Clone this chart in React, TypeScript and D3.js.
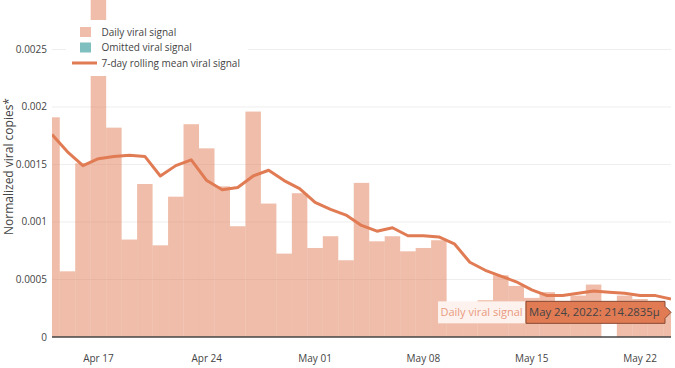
import React from "react";
import * as d3 from "d3";

const dates: string[] = [
  "2022-04-14","2022-04-15","2022-04-16","2022-04-17","2022-04-18","2022-04-19","2022-04-20",
  "2022-04-21","2022-04-22","2022-04-23","2022-04-24","2022-04-25","2022-04-26","2022-04-27",
  "2022-04-28","2022-04-29","2022-04-30","2022-05-01","2022-05-02","2022-05-03","2022-05-04",
  "2022-05-05","2022-05-06","2022-05-07","2022-05-08","2022-05-09","2022-05-10","2022-05-11",
  "2022-05-12","2022-05-13","2022-05-14","2022-05-15","2022-05-16","2022-05-17","2022-05-18",
  "2022-05-19","2022-05-20","2022-05-21","2022-05-22","2022-05-23","2022-05-24",
];

const dailySignal: (number | null)[] = [
  0.00191, 0.000571, 0.00151, 0.0030, 0.00182, 0.000847, 0.00133,
  0.000797, 0.00122, 0.00185, 0.00164, 0.00131, 0.000963, 0.00196,
  0.00116, 0.000725, 0.00125, 0.000774, 0.000876, 0.000667, 0.00134,
  0.000832, 0.000876, 0.000745, 0.000774, 0.000841, 0.00028, 0.00026,
  0.00032, 0.000537, 0.000444, 0.00034, 0.00039, 0.00031, 0.00036,
  0.000456, null, 0.00036, 0.00033, 0.00031, 0.0002142835,
];

const rollingMean: number[] = [
  0.00176, 0.00161, 0.00149, 0.00155, 0.00157, 0.00158, 0.00157,
  0.0014, 0.00149, 0.00154, 0.00136, 0.00128, 0.0013, 0.0014,
  0.00145, 0.00136, 0.00129, 0.00117, 0.00111, 0.00106, 0.00097,
  0.00092, 0.00095, 0.00088, 0.00088, 0.00087, 0.00081, 0.00065,
  0.00058, 0.00053, 0.00048, 0.00041, 0.00036, 0.00036, 0.00038,
  0.0004, 0.00039, 0.00038, 0.00036, 0.00036, 0.00033,
];

const yTicks: number[] = [0, 0.0005, 0.001, 0.0015, 0.002, 0.0025];
const yTickLabels: string[] = ["0", "0.0005", "0.001", "0.0015", "0.002", "0.0025"];
const xTicks: string[] = ["2022-04-17", "2022-04-24", "2022-05-01", "2022-05-08", "2022-05-15", "2022-05-22"];
const xTickLabels: string[] = ["Apr 17", "Apr 24", "May 01", "May 08", "May 15", "May 22"];
const legendLabels: string[] = ["Daily viral signal", "Omitted viral signal", "7-day rolling mean viral signal"];
const hoverName = "Daily viral signal";
const hoverText = "May 24, 2022: 214.2835μ";

const W = 675, H = 368;
const L = 52, R = 671, T = 0, B = 337;
const ORANGE = "#e07b54";
const TEAL = "#008080";
const FONT = "'Open Sans', sans-serif";

export default function App() {
  const parse = d3.utcParse("%Y-%m-%d");
  const dts = dates.map((d) => parse(d) as Date);
  const x = d3.scaleUtc().domain([dts[0], dts[dts.length - 1]]).range([L, R]);
  const y = d3.scaleLinear().domain([0, 0.00293]).range([B, T]);
  const dayW = x(dts[1]) - x(dts[0]);

  const line = d3
    .line<number>()
    .x((_, i) => x(dts[i]))
    .y((d) => y(d));

  const lastI = dts.length - 1;
  const tipX = x(dts[lastI]);
  const tipY = y(dailySignal[lastI] as number);
  const boxH = 22;
  const mainW = 139;
  const mainR = tipX - 6;
  const mainL = mainR - mainW;
  const nameW = 87;
  const nameL = mainL - nameW - 1;

  return (
    <svg width={W} height={H} style={{ position: "absolute", left: 0, top: 0, background: "#fff" }} fontFamily={FONT}>
      <defs>
        <clipPath id="plotclip">
          <rect x={L} y={T} width={R - L} height={B - T} />
        </clipPath>
      </defs>
      {/* grid */}
      {yTicks.slice(1).map((t) => (
        <line key={t} x1={L} x2={R} y1={y(t)} y2={y(t)} stroke="#eee" strokeWidth={1} />
      ))}
      {/* bars */}
      <g clipPath="url(#plotclip)">
        {dailySignal.map((v, i) =>
          v == null ? null : (
            <rect
              key={i}
              x={x(dts[i]) - dayW / 2}
              width={dayW}
              y={y(v)}
              height={B - y(v)}
              fill={ORANGE}
              fillOpacity={0.5}
            />
          )
        )}
        <path d={line(rollingMean) || ""} fill="none" stroke={ORANGE} strokeWidth={3} strokeLinejoin="round" />
      </g>
      {/* zero line */}
      <line x1={L} x2={R} y1={B} y2={B} stroke="#444" strokeWidth={1.5} />
      {/* y ticks */}
      {yTicks.map((t, i) => (
        <text key={t} x={L - 5} y={y(t)} dy="0.35em" textAnchor="end" fontSize={10} fill="#444">
          {yTickLabels[i]}
        </text>
      ))}
      {/* x ticks */}
      {xTicks.map((t, i) => (
        <text key={t} x={x(parse(t) as Date)} y={362} textAnchor="middle" fontSize={10} fill="#444">
          {xTickLabels[i]}
        </text>
      ))}
      {/* y title */}
      <text
        transform={`translate(13,${(T + B) / 2 - 2}) rotate(-90)`}
        textAnchor="middle"
        fontSize={12}
        fill="#444"
      >
        Normalized viral copies*
      </text>
      {/* legend */}
      <g>
        <rect x={66} y={20} width={182} height={56} fill="#fff" />
        <rect x={80} y={27} width={11} height={10} fill={ORANGE} fillOpacity={0.5} />
        <text x={101.5} y={32} dy="0.35em" fontSize={10} fill="#444">{legendLabels[0]}</text>
        <rect x={80} y={42.5} width={11} height={10} fill={TEAL} fillOpacity={0.5} />
        <text x={101.5} y={47.5} dy="0.35em" fontSize={10} fill="#444">{legendLabels[1]}</text>
        <line x1={72} x2={97} y1={63} y2={63} stroke={ORANGE} strokeWidth={3} />
        <text x={101.5} y={63} dy="0.35em" fontSize={10} fill="#444">{legendLabels[2]}</text>
      </g>
      {/* hover label */}
      <g>
        <rect x={nameL} y={tipY - boxH / 2} width={nameW} height={boxH} fill="#fdf2ee" />
        <text x={nameL + nameW / 2} y={tipY} dy="0.35em" textAnchor="middle" fontSize={11} fill="#ea9a7e">
          {hoverName}
        </text>
        <path
          d={`M${tipX},${tipY} L${mainR},${tipY - 6} L${mainR},${tipY - boxH / 2} L${mainL},${tipY - boxH / 2} L${mainL},${tipY + boxH / 2} L${mainR},${tipY + boxH / 2} L${mainR},${tipY + 6} Z`}
          fill="#e07b54"
          stroke="#8a4a33"
          strokeWidth={1}
        />
        <text x={mainL + 3} y={tipY} dy="0.35em" fontSize={11.3} fill="#444">
          {hoverText}
        </text>
      </g>
    </svg>
  );
}
